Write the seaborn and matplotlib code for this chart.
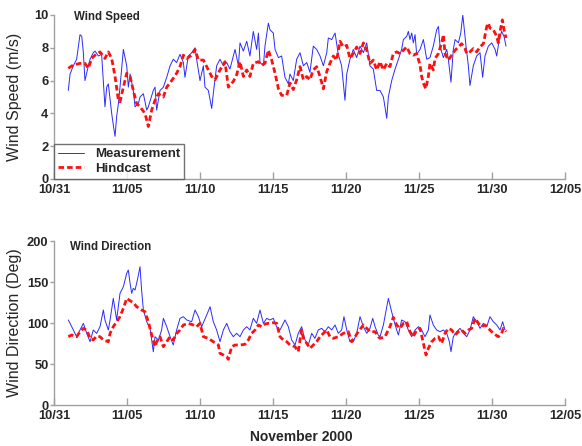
import numpy as np
import pandas as pd
import matplotlib
matplotlib.use("Agg")
import matplotlib.pyplot as plt
import seaborn as sns
from matplotlib.dates import DateFormatter

sns.set_style("white")
plt.rcParams["font.family"] = ["Liberation Sans", "DejaVu Sans"]
plt.rcParams["font.weight"] = "bold"

START = pd.Timestamp("2000-10-31")

# ---- wind speed (m/s), time in days since 10/31 00:00 ----
speed_meas_days = [
    0.98, 1.10, 1.32, 1.55, 1.78, 1.90, 2.01, 2.12, 2.35, 2.47,
    2.69, 2.81, 3.04, 3.26, 3.49, 3.61, 3.72, 3.95, 4.06, 4.18,
    4.29, 4.41, 4.52, 4.75, 4.98, 5.09, 5.21, 5.43, 5.55, 5.78,
    5.89, 6.12, 6.35, 6.46, 6.80, 6.92, 7.03, 7.26, 7.49, 7.72,
    7.95, 8.17, 8.40, 8.63, 8.86, 8.97, 9.20, 9.43, 9.66, 9.77,
    10.00, 10.23, 10.34, 10.57, 10.80, 10.91, 11.14,
    11.37, 11.60, 11.83, 12.05, 12.28, 12.40, 12.63, 12.74, 12.97, 13.20,
    13.42, 13.65, 13.88, 14.00, 14.11, 14.34, 14.45, 14.68, 14.79, 15.02,
    15.14, 15.37, 15.59, 15.82, 16.05, 16.16, 16.39, 16.62, 16.85, 17.08,
    17.31, 17.53, 17.76, 17.99, 18.22, 18.45, 18.68, 18.79, 19.02, 19.25,
    19.47, 19.70, 19.93, 20.05, 20.27, 20.50, 20.73, 20.96, 21.19, 21.42,
    21.64, 21.87, 22.10,
    22.33, 22.56, 22.79, 22.90, 23.13, 23.36, 23.59, 23.81, 23.93, 24.16,
    24.27, 24.38, 24.50, 24.61, 24.73, 24.84, 25.07, 25.30, 25.53, 25.75,
    25.98, 26.21, 26.33, 26.44, 26.67, 26.90, 27.01, 27.19, 27.35, 27.47,
    27.70, 27.86, 28.00, 28.08, 28.22, 28.38, 28.49, 28.72, 28.95, 29.18,
    29.36, 29.52, 29.75, 29.98, 30.21, 30.32, 30.50, 30.66, 30.82, 30.96,
]
speed_meas = [
    5.4, 6.4, 6.9, 7.3, 8.8, 8.7, 7.7, 6.0, 6.9, 7.3,
    7.7, 7.8, 7.5, 7.6, 4.4, 5.6, 5.8, 4.0, 3.3, 2.6,
    3.8, 4.6, 5.6, 7.9, 6.9, 5.6, 6.4, 5.4, 4.4, 4.6,
    5.0, 5.2, 4.2, 4.4, 5.4, 5.6, 4.2, 5.4, 5.6, 6.2,
    6.9, 7.3, 7.1, 7.6, 7.1, 6.2, 7.5, 7.7, 8.0, 7.3,
    6.0, 6.9, 5.6, 5.4, 4.3, 5.2, 6.9,
    7.3, 6.9, 7.1, 6.7, 7.5, 7.9, 6.9, 8.3, 7.8, 8.4,
    7.5, 9.0, 7.9, 8.9, 7.1, 6.9, 8.1, 9.5, 9.1, 8.9,
    7.9, 7.4, 7.5, 6.2, 5.8, 6.4, 6.0, 7.3, 7.7, 6.9,
    7.1, 6.5, 8.1, 7.9, 7.5, 6.9, 7.7, 8.6, 8.5, 8.9,
    7.6, 6.9, 4.8, 6.4, 7.3, 7.9, 7.4, 8.1, 7.7, 8.3,
    6.9, 6.7, 5.4,
    5.4, 5.0, 3.7, 5.0, 6.0, 6.7, 7.3, 7.9, 8.5, 8.7,
    9.0, 8.5, 8.9, 8.3, 8.8, 7.6, 7.9, 8.5, 7.3, 7.4,
    8.1, 9.1, 9.3, 8.1, 7.4, 7.9, 7.3, 5.9, 7.9, 8.5,
    8.3, 8.9, 10.0, 9.3, 8.1, 6.9, 5.7, 6.9, 7.5, 7.7,
    6.2, 7.5, 8.1, 8.3, 7.9, 7.5, 8.5, 9.0, 8.7, 8.1,
]

speed_hind_days = [
    0.98, 1.32, 1.78, 2.12, 2.35, 2.58, 2.81, 3.15, 3.33, 3.49,
    3.72, 3.95, 4.18, 4.41, 4.52, 4.75, 4.98, 5.21, 5.43, 5.66,
    5.89, 6.23, 6.46, 6.69, 6.92, 7.15, 7.49, 7.72, 8.06, 8.40,
    8.63, 8.86, 9.09, 9.43, 9.66, 9.89, 10.23, 10.46, 10.80, 11.03,
    11.26, 11.37, 11.71, 11.94, 12.28, 12.51, 12.74, 12.97, 13.20, 13.42,
    13.65, 14.00, 14.22, 14.45, 14.68, 14.91, 15.14, 15.37, 15.59, 15.94,
    16.16, 16.39, 16.62, 16.85, 17.08, 17.31, 17.53, 17.76, 17.99, 18.22,
    18.45, 18.68, 18.90, 19.13, 19.36, 19.59, 19.82, 20.05, 20.27, 20.50,
    20.73, 20.96, 21.19, 21.42, 21.64, 21.87, 22.10, 22.33, 22.56, 22.79,
    23.01, 23.24, 23.47, 23.70, 23.93, 24.16, 24.38, 24.61, 24.84, 25.07,
    25.18, 25.30, 25.46, 25.64, 25.75, 25.98, 26.10, 26.33, 26.55, 26.67,
    26.78, 27.01, 27.24, 27.47, 27.70, 27.92, 28.15, 28.27, 28.49, 28.72,
    28.95, 29.18, 29.41, 29.64, 29.75, 29.86, 30.09, 30.32, 30.43, 30.55,
    30.71, 30.82, 30.96,
]
speed_hind = [
    6.75, 6.95, 7.05, 7.05, 6.75, 7.35, 7.55, 7.75, 7.55, 7.35,
    7.75, 7.35, 6.25, 4.8, 4.7, 5.6, 6.45, 6.25, 5.4, 4.6,
    4.4, 4.0, 3.2, 4.2, 4.8, 5.2, 5.0, 5.6, 6.0, 6.45,
    6.85, 7.55, 7.35, 7.55, 7.9, 7.25, 7.25, 6.85, 6.25, 6.05,
    6.45, 6.65, 7.15, 5.6, 5.95, 6.35, 7.15, 6.25, 6.65, 6.25,
    7.05, 7.15, 6.95, 7.05, 7.85, 7.25, 6.45, 5.5, 5.1, 5.1,
    5.85, 5.45, 6.05, 6.85, 6.05, 6.25, 6.05, 6.65, 6.85, 6.25,
    5.5, 6.55, 7.05, 7.5, 7.25, 8.4, 8.05, 8.15, 7.35, 7.65,
    8.05, 7.65, 8.3, 7.85, 7.05, 7.25, 6.65, 7.15, 6.65, 7.05,
    6.85, 7.65, 7.75, 7.65, 7.85, 8.05, 7.65, 7.55, 7.65, 6.95,
    6.25, 5.85, 5.5, 6.25, 7.05, 6.65, 7.35, 7.65, 8.3, 8.8,
    7.65, 7.25, 7.55, 7.85, 8.05, 8.25, 7.95, 7.65, 7.75, 7.95,
    7.75, 8.05, 8.25, 9.3, 9.5, 9.2, 9.1, 8.7, 8.3, 9.0,
    9.7, 9.1, 8.6,
]

# ---- wind direction (deg) ----
dir_meas_days = [
    0.98, 1.10, 1.32, 1.55, 1.78, 2.01, 2.24, 2.47, 2.69, 2.92,
    3.15, 3.38, 3.49, 3.72, 3.84, 4.06, 4.18, 4.29, 4.52, 4.75,
    4.98, 5.09, 5.21, 5.32, 5.43, 5.55, 5.71, 5.89, 6.00, 6.12,
    6.35, 6.58, 6.80, 6.92, 7.15, 7.37, 7.49, 7.72, 7.95, 8.17,
    8.40, 8.63, 8.86, 9.09, 9.43, 9.66, 9.89, 10.11, 10.46, 10.69,
    10.91, 11.14,
    11.37, 11.60, 11.83, 12.05, 12.28, 12.51, 12.74, 12.97, 13.20, 13.42,
    13.65, 13.88, 14.11, 14.34, 14.57, 14.79, 15.02, 15.25, 15.48, 15.82,
    16.05, 16.28, 16.51, 16.73, 16.96, 17.19, 17.42, 17.65, 17.87, 18.10,
    18.33, 18.56, 18.79, 19.02, 19.25, 19.47, 19.70, 19.86, 20.05, 20.27,
    20.50, 20.73, 20.96, 21.19, 21.42, 21.64, 21.83, 21.99, 22.21,
    22.33, 22.56, 22.79, 22.90, 23.01, 23.24, 23.47, 23.59, 23.81, 24.04,
    24.27, 24.50, 24.73, 24.96, 25.18, 25.41, 25.64, 25.75, 25.98, 26.21,
    26.44, 26.67, 26.90, 27.08, 27.19, 27.35, 27.58, 27.81, 28.04, 28.27,
    28.49, 28.72, 28.95, 29.18, 29.41, 29.64, 29.86, 30.09, 30.32, 30.55,
    30.73, 30.89,
]
dir_meas = [
    103.7, 99.6, 91.5, 83.3, 91.5, 99.6, 87.4, 77.2, 91.5, 87.4,
    95.5, 115.9, 103.7, 91.5, 103.7, 130.1, 115.9, 103.7, 136.2, 144.3,
    160.6, 164.6, 148.4, 136.2, 142.3, 140.2, 152.4, 168.7, 140.2, 115.9,
    101.6, 93.5, 65.0, 83.3, 79.3, 91.5, 105.7, 95.5, 83.3, 73.2,
    91.5, 105.7, 107.7, 103.7, 101.6, 115.9, 107.7, 95.5, 109.8, 119.9,
    101.6, 91.5,
    77.2, 91.5, 99.6, 89.4, 83.3, 87.4, 83.3, 91.5, 95.5, 91.5,
    105.7, 99.6, 115.9, 99.6, 105.7, 103.7, 105.7, 95.5, 91.5, 103.7,
    95.5, 79.3, 73.2, 87.4, 95.5, 79.3, 73.2, 87.4, 81.3, 91.5,
    93.5, 89.4, 95.5, 91.5, 97.6, 87.4, 91.5, 107.7, 91.5, 77.2,
    77.2, 87.4, 107.7, 95.5, 87.4, 93.5, 105.7, 95.5, 85.4,
    83.3, 97.6, 119.9, 130.0, 122.0, 105.7, 91.5, 85.4, 103.7, 101.6,
    91.5, 83.3, 91.5, 95.5, 91.5, 83.3, 91.5, 109.8, 97.6, 91.5,
    89.4, 91.5, 87.4, 77.2, 65.0, 83.3, 89.4, 93.5, 87.4, 83.3,
    91.5, 107.7, 101.6, 93.5, 99.6, 95.5, 107.7, 101.6, 97.6, 91.5,
    101.6, 91.5,
]

dir_hind_days = [
    0.98, 1.21, 1.55, 1.78, 2.01, 2.24, 2.47, 2.69, 2.92, 3.15,
    3.38, 3.72, 3.84, 4.06, 4.29, 4.52, 4.75, 4.98, 5.21, 5.43,
    5.66, 6.00, 6.23, 6.46, 6.69, 6.92, 7.03, 7.26, 7.49, 7.72,
    7.95, 8.17, 8.40, 8.63, 8.86, 9.20, 9.54, 9.77, 10.00, 10.23,
    10.57, 10.91, 11.26,
    11.37, 11.60, 11.83, 11.94, 12.17, 12.40, 12.74, 13.08, 13.31, 13.54,
    13.77, 14.00, 14.22, 14.45, 14.68, 15.02, 15.25, 15.48, 15.71, 15.94,
    16.16, 16.51, 16.73, 16.85, 16.96, 17.08, 17.31, 17.53, 17.76, 17.99,
    18.22, 18.45, 18.68, 18.90, 19.13, 19.47, 19.82, 20.16, 20.39, 20.62,
    20.84, 21.19, 21.42, 21.64, 21.99, 22.21,
    22.33, 22.67, 23.01, 23.24, 23.47, 23.70, 23.93, 24.16, 24.38, 24.61,
    24.84, 25.07, 25.30, 25.48, 25.64, 25.87, 26.10, 26.33, 26.55, 26.78,
    27.01, 27.24, 27.47, 27.70, 27.92, 28.15, 28.38, 28.61, 28.84, 29.07,
    29.30, 29.52, 29.75, 30.09, 30.43, 30.66, 30.78, 30.96,
]
dir_hind = [
    83.3, 85.4, 83.3, 89.4, 93.5, 91.5, 81.3, 79.3, 84.1, 83.3,
    79.3, 77.2, 87.4, 95.5, 101.6, 107.7, 117.9, 130.1, 127.2, 124.8,
    119.9, 115.9, 113.8, 101.6, 85.4, 71.1, 77.2, 83.3, 71.1, 77.2,
    83.3, 79.3, 87.4, 91.5, 97.6, 99.6, 97.6, 95.5, 99.6, 83.3,
    81.3, 77.2, 73.2,
    63.0, 61.0, 58.9, 55.7, 71.1, 73.2, 73.2, 74.0, 79.3, 87.4,
    91.5, 97.6, 95.5, 98.8, 99.6, 100.4, 99.6, 83.3, 79.3, 77.2,
    73.2, 71.1, 65.0, 79.3, 91.5, 81.3, 75.2, 69.1, 73.2, 77.2,
    83.3, 87.4, 91.5, 83.3, 81.3, 83.3, 87.4, 89.4, 77.2, 83.3,
    89.4, 97.6, 93.5, 89.4, 89.4, 83.3,
    81.3, 83.3, 95.5, 106.9, 97.6, 93.5, 99.6, 101.6, 89.4, 83.3,
    91.5, 93.5, 75.2, 61.0, 69.1, 77.2, 81.3, 83.3, 75.2, 87.4,
    93.5, 91.5, 85.4, 89.4, 91.5, 87.4, 91.5, 93.5, 105.7, 99.6,
    95.5, 97.6, 93.5, 87.4, 83.3, 87.4, 93.5, 89.4,
]

tick_days = [0, 5, 10, 15, 20, 25, 30, 35]
speed_ticks = [0, 2, 4, 6, 8, 10]
dir_ticks = [0, 50, 100, 150, 200]

MEAS_COLOR = "#2a2aff"
HIND_COLOR = "#ff1010"
AXIS_GRAY = "#a0a0a0"


def to_time(days):
    return START + pd.to_timedelta(np.asarray(days, dtype=float), unit="D")


def draw_panel(ax, tm, vm, th, vh, show_legend):
    sns.lineplot(x=to_time(tm), y=vm, ax=ax, color=MEAS_COLOR, linewidth=0.7,
                 label="Measurement", estimator=None, sort=False, legend=show_legend)
    sns.lineplot(x=to_time(th), y=vh, ax=ax, color=HIND_COLOR, linewidth=2.0,
                 linestyle=(0, (2.0, 1.1)), label="Hindcast", estimator=None,
                 sort=False, legend=show_legend)
    ax.set_xlim(START, START + pd.Timedelta(days=35))
    ax.set_xticks(to_time(tick_days))
    ax.xaxis.set_major_formatter(DateFormatter("%m/%d"))
    for side in ("top", "right"):
        ax.spines[side].set_visible(False)
    for side in ("left", "bottom"):
        ax.spines[side].set_color(AXIS_GRAY)
        ax.spines[side].set_linewidth(1.0)
    ax.tick_params(axis="x", direction="in", length=5, width=1, color=AXIS_GRAY,
                   pad=3.8, labelsize=9.3, bottom=True)
    ax.tick_params(axis="y", direction="out", length=3, width=1, color=AXIS_GRAY,
                   pad=1, labelsize=9.3, left=True)
    ax.set_xlabel("")


fig = plt.figure(figsize=(5.82, 4.46), dpi=100)
ax1 = fig.add_axes([0.0928, 0.5987, 0.878, 0.3677])
ax2 = fig.add_axes([0.0928, 0.0919, 0.878, 0.3677])

draw_panel(ax1, speed_meas_days, speed_meas, speed_hind_days, speed_hind, True)
draw_panel(ax2, dir_meas_days, dir_meas, dir_hind_days, dir_hind, False)

ax1.set_ylim(0, 10)
ax1.set_yticks(speed_ticks)
ax2.set_ylim(0, 200)
ax2.set_yticks(dir_ticks)

ax1.set_ylabel("Wind Speed (m/s)", fontsize=11.5, fontweight="normal")
ax2.set_ylabel("Wind Direction (Deg)", fontsize=11.5, fontweight="normal")
ax1.yaxis.set_label_coords(-0.063, 0.5)
ax2.yaxis.set_label_coords(-0.063, 0.5)

ax1.text(0.039, 0.985, "Wind Speed", transform=ax1.transAxes, fontsize=8.3,
         fontweight="bold", va="center", ha="left")
ax2.text(0.031, 0.963, "Wind Direction", transform=ax2.transAxes, fontsize=8.3,
         fontweight="bold", va="center", ha="left")

leg = ax1.legend(loc="lower left", bbox_to_anchor=(0, 0), borderaxespad=0,
                 frameon=True, fancybox=False, edgecolor="#505050",
                 prop={"weight": "bold", "size": 9.5}, handlelength=2.0,
                 borderpad=0.3, labelspacing=0.2, handletextpad=0.8)
leg.get_frame().set_linewidth(1.0)

fig.text(301 / 582, 1 - 437 / 446, "November 2000", ha="center", va="center",
         fontsize=10, fontweight="bold")

fig.savefig("out.png", dpi=100, facecolor="white")
